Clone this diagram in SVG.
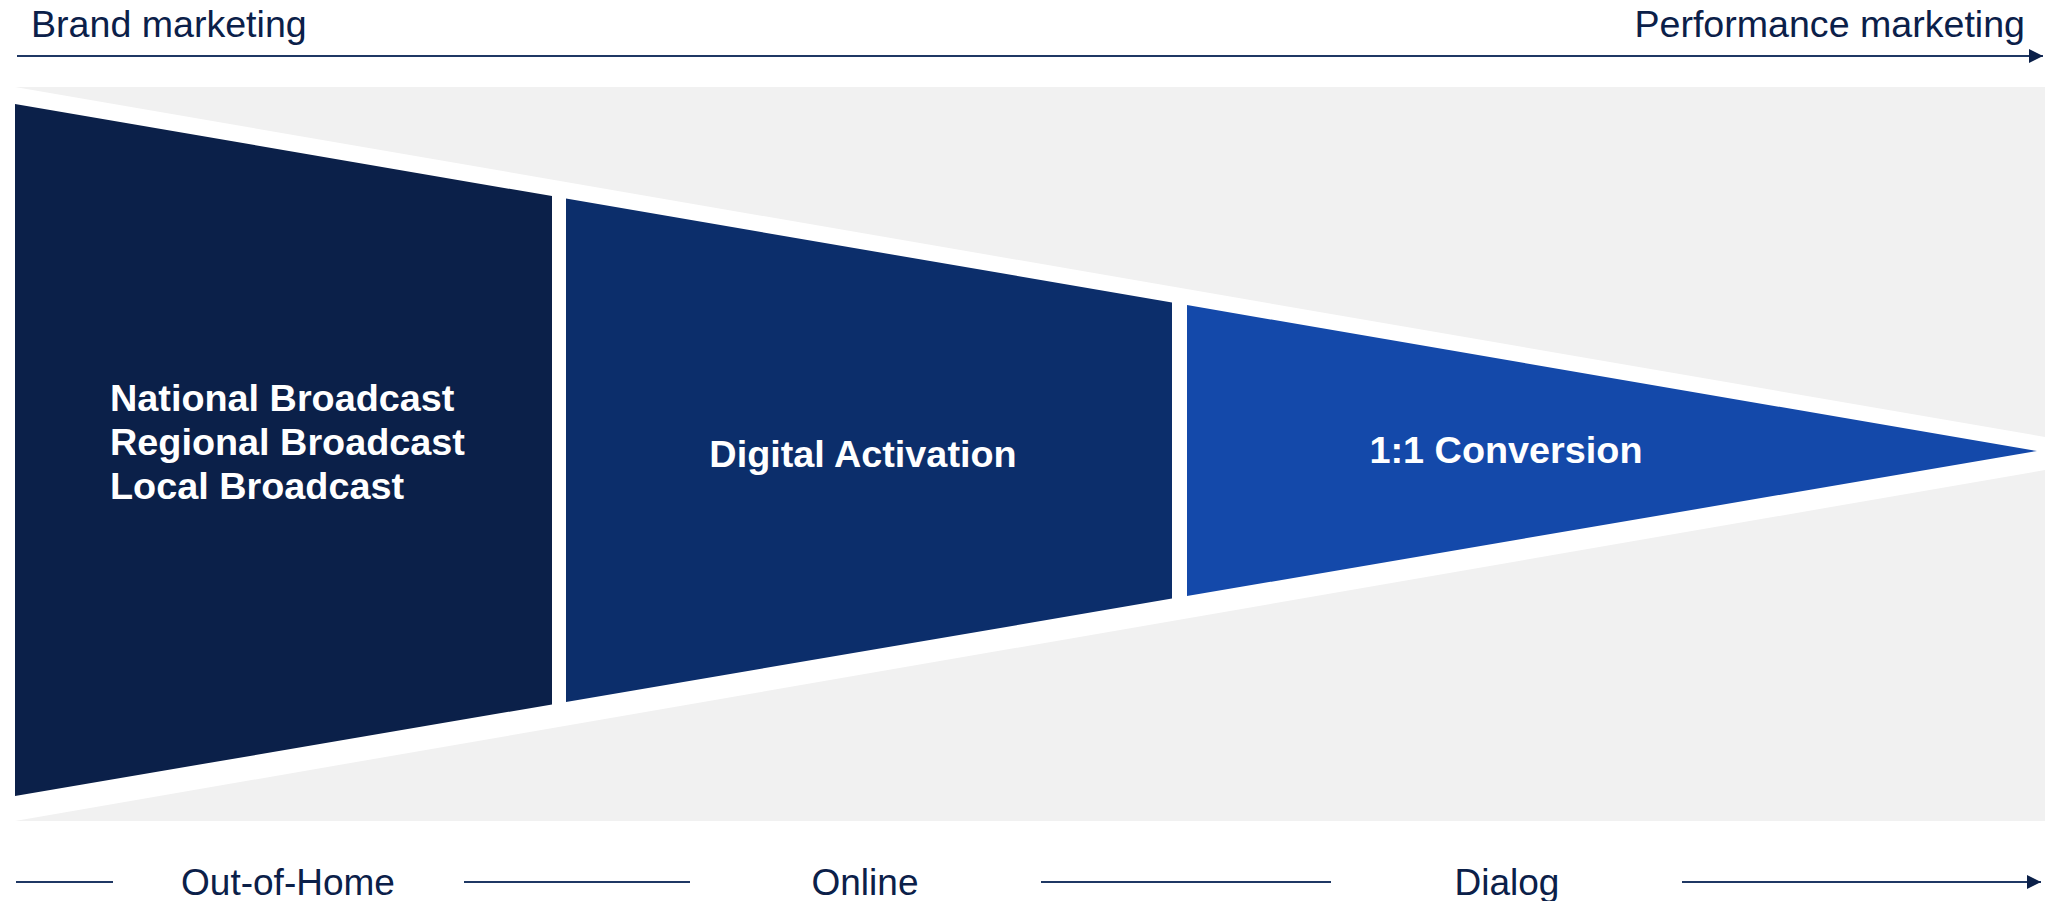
<svg xmlns="http://www.w3.org/2000/svg" width="2060" height="901" viewBox="0 0 2060 901">
  <style>
    .axis { fill: #0B2049; font-family: "Liberation Sans", Arial, sans-serif; font-size: 37.6px; }
    .stage { fill: #0B2049; font-family: "Liberation Sans", Arial, sans-serif; font-size: 37px; text-anchor: middle; }
    .inner { fill: #FFFFFF; font-family: "Liberation Sans", Arial, sans-serif; font-size: 37.8px; font-weight: bold; }
    .rule { stroke: #1F3864; stroke-width: 2; fill: none; }
  </style>
  <defs>
    <marker id="head" viewBox="0 0 10 10" refX="10" refY="5" markerWidth="14" markerHeight="14" markerUnits="userSpaceOnUse" orient="auto">
      <path d="M0,0 L10,5 L0,10 Z" fill="#0B2049"/>
    </marker>
  </defs>

  <!-- backdrop panel with the white funnel outline -->
  <g id="backdrop">
    <rect x="15" y="87" width="2030" height="734" fill="#F1F1F1"/>
    <polygon points="15,87 2045,437 2045,470 15,821" fill="#FFFFFF"/>
  </g>

  <!-- funnel stages -->
  <g id="stage-broadcast">
    <polygon points="15,104 552,196.1 552,704.4 15,796" fill="#0B2049"/>
    <text class="inner" x="110" y="411">National Broadcast</text>
    <text class="inner" x="110" y="455">Regional Broadcast</text>
    <text class="inner" x="110" y="499">Local Broadcast</text>
  </g>
  <g id="stage-digital">
    <polygon points="566,198.6 1172,302.5 1172,598.6 566,702" fill="#0C2E6B"/>
    <text class="inner" x="863" y="467" text-anchor="middle">Digital Activation</text>
  </g>
  <g id="stage-conversion">
    <polygon points="1187,305.1 2037,451 1187,596.1" fill="#1449AA"/>
    <text class="inner" x="1506" y="463" text-anchor="middle">1:1 Conversion</text>
  </g>

  <!-- axis labels -->
  <g id="axis-labels">
    <text class="axis" x="31" y="37">Brand marketing</text>
    <text class="axis" x="2025" y="37" text-anchor="end">Performance marketing</text>
    <text class="stage" x="288" y="895">Out-of-Home</text>
    <text class="stage" x="865" y="895">Online</text>
    <text class="stage" x="1507" y="895">Dialog</text>
  </g>

  <!-- connectors: top scale arrow and bottom channel arrow -->
  <g id="connectors">
    <line class="rule" x1="17" y1="56" x2="2043" y2="56" marker-end="url(#head)"/>
    <line class="rule" x1="16" y1="882" x2="113" y2="882"/>
    <line class="rule" x1="464" y1="882" x2="690" y2="882"/>
    <line class="rule" x1="1041" y1="882" x2="1331" y2="882"/>
    <line class="rule" x1="1682" y1="882" x2="2041" y2="882" marker-end="url(#head)"/>
  </g>
</svg>
